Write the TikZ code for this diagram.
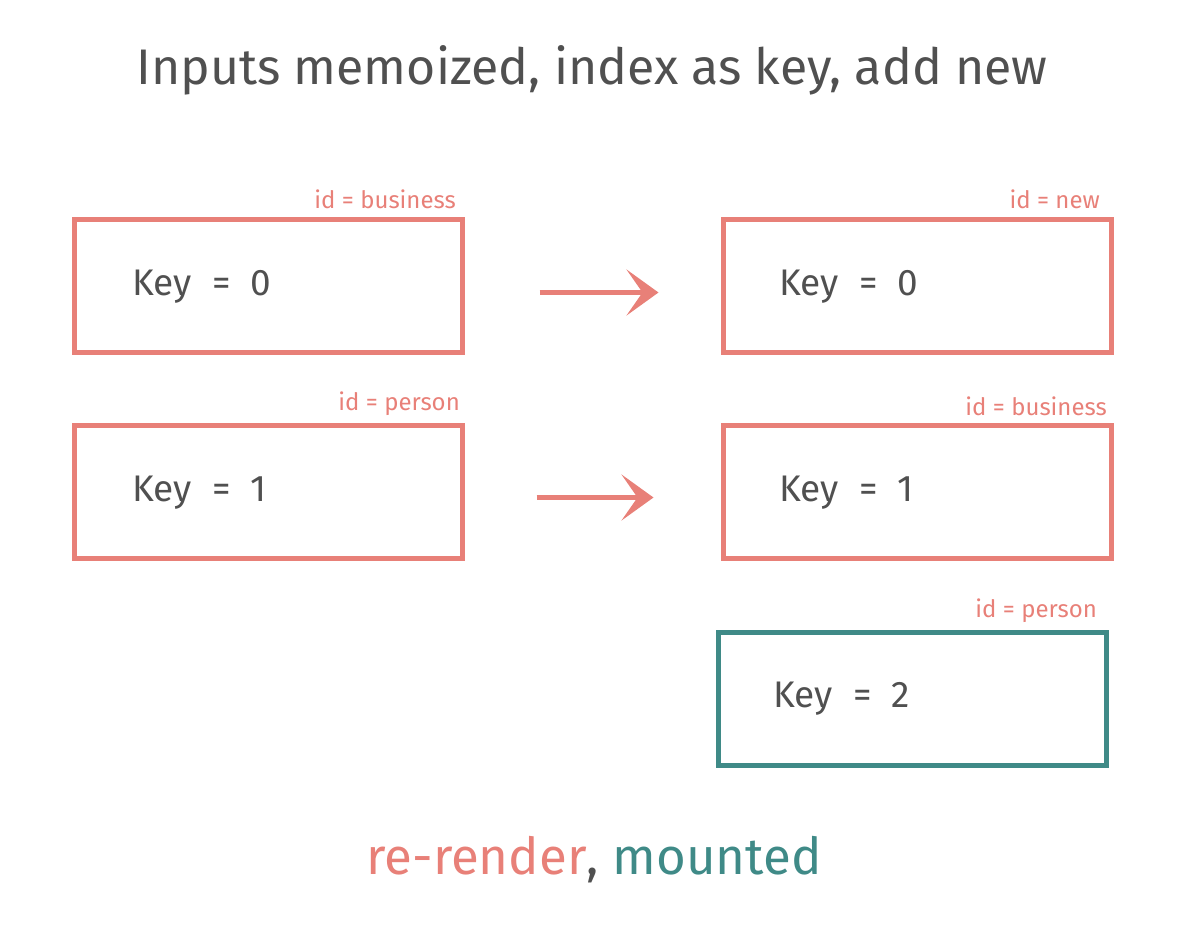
\documentclass[tikz,border=0pt]{standalone}
\usepackage{fontspec}
\setmainfont{Fira Sans}
\usetikzlibrary{arrows.meta}
\definecolor{salmon}{RGB}{232,128,120}
\definecolor{teal2}{RGB}{63,138,135}
\definecolor{ink}{RGB}{80,80,80}
\newcommand{\wsp}{\hspace{0.55em}}
\begin{document}
\begin{tikzpicture}[x=1pt,y=-1pt,
  box/.style={draw=#1,line width=5pt,minimum width=388pt,minimum height=133pt,inner sep=0pt},
  keytxt/.style={text=ink,font=\fontsize{37}{42}\selectfont,anchor=west,inner sep=0pt},
  idtxt/.style={text=salmon,font=\fontsize{24}{28}\selectfont,anchor=south east,inner sep=0pt},
  arr/.style={draw=salmon,line width=5pt,-{Stealth[length=32pt,width=46pt,inset=16pt]}}]
\useasboundingbox (0,0) rectangle (1202,932);
\node[text=ink,font=\fontsize{50}{56}\selectfont] (title) at (592,70) {Inputs memoized, index as key, add new};
% left column
\node[box=salmon] (L1) at (268,285.5) {};
\node[box=salmon] (L2) at (268,491.5) {};
% right column
\node[box=salmon] (R1) at (917,285.5) {};
\node[box=salmon] (R2) at (917,491.5) {};
\node[box=teal2] (R3) at (912.5,699) {};
% key labels
\node[keytxt] (k1) at (132,287) {Key\wsp=\wsp0};
\node[keytxt] (k2) at (132,493) {Key\wsp=\wsp1};
\node[keytxt] (k3) at (779,287) {Key\wsp=\wsp0};
\node[keytxt] (k4) at (779,493) {Key\wsp=\wsp1};
\node[keytxt] (k5) at (773,699) {Key\wsp=\wsp2};
% id labels
\node[idtxt] (i1) at (456,209) {id = business};
\node[idtxt] (i2) at (460,416) {id = person};
\node[idtxt] (i3) at (1100,209) {id = new};
\node[idtxt] (i4) at (1107,416) {id = business};
\node[idtxt] (i5) at (1097,623) {id = person};
% arrows
\draw[arr,shorten <=75pt,shorten >=62pt] ([yshift=-7pt]L1.east) -- ([yshift=-7pt]R1.west);
\draw[arr,shorten <=72pt,shorten >=67pt] ([yshift=-6pt]L2.east) -- ([yshift=-6pt]R2.west);
% bottom
\node[font=\fontsize{51}{56}\selectfont,inner sep=0pt] (legend) at (594,860) {\textcolor{salmon}{re-render}\textcolor{ink}{,} \textcolor{teal2}{mounted}};
\end{tikzpicture}
\end{document}
